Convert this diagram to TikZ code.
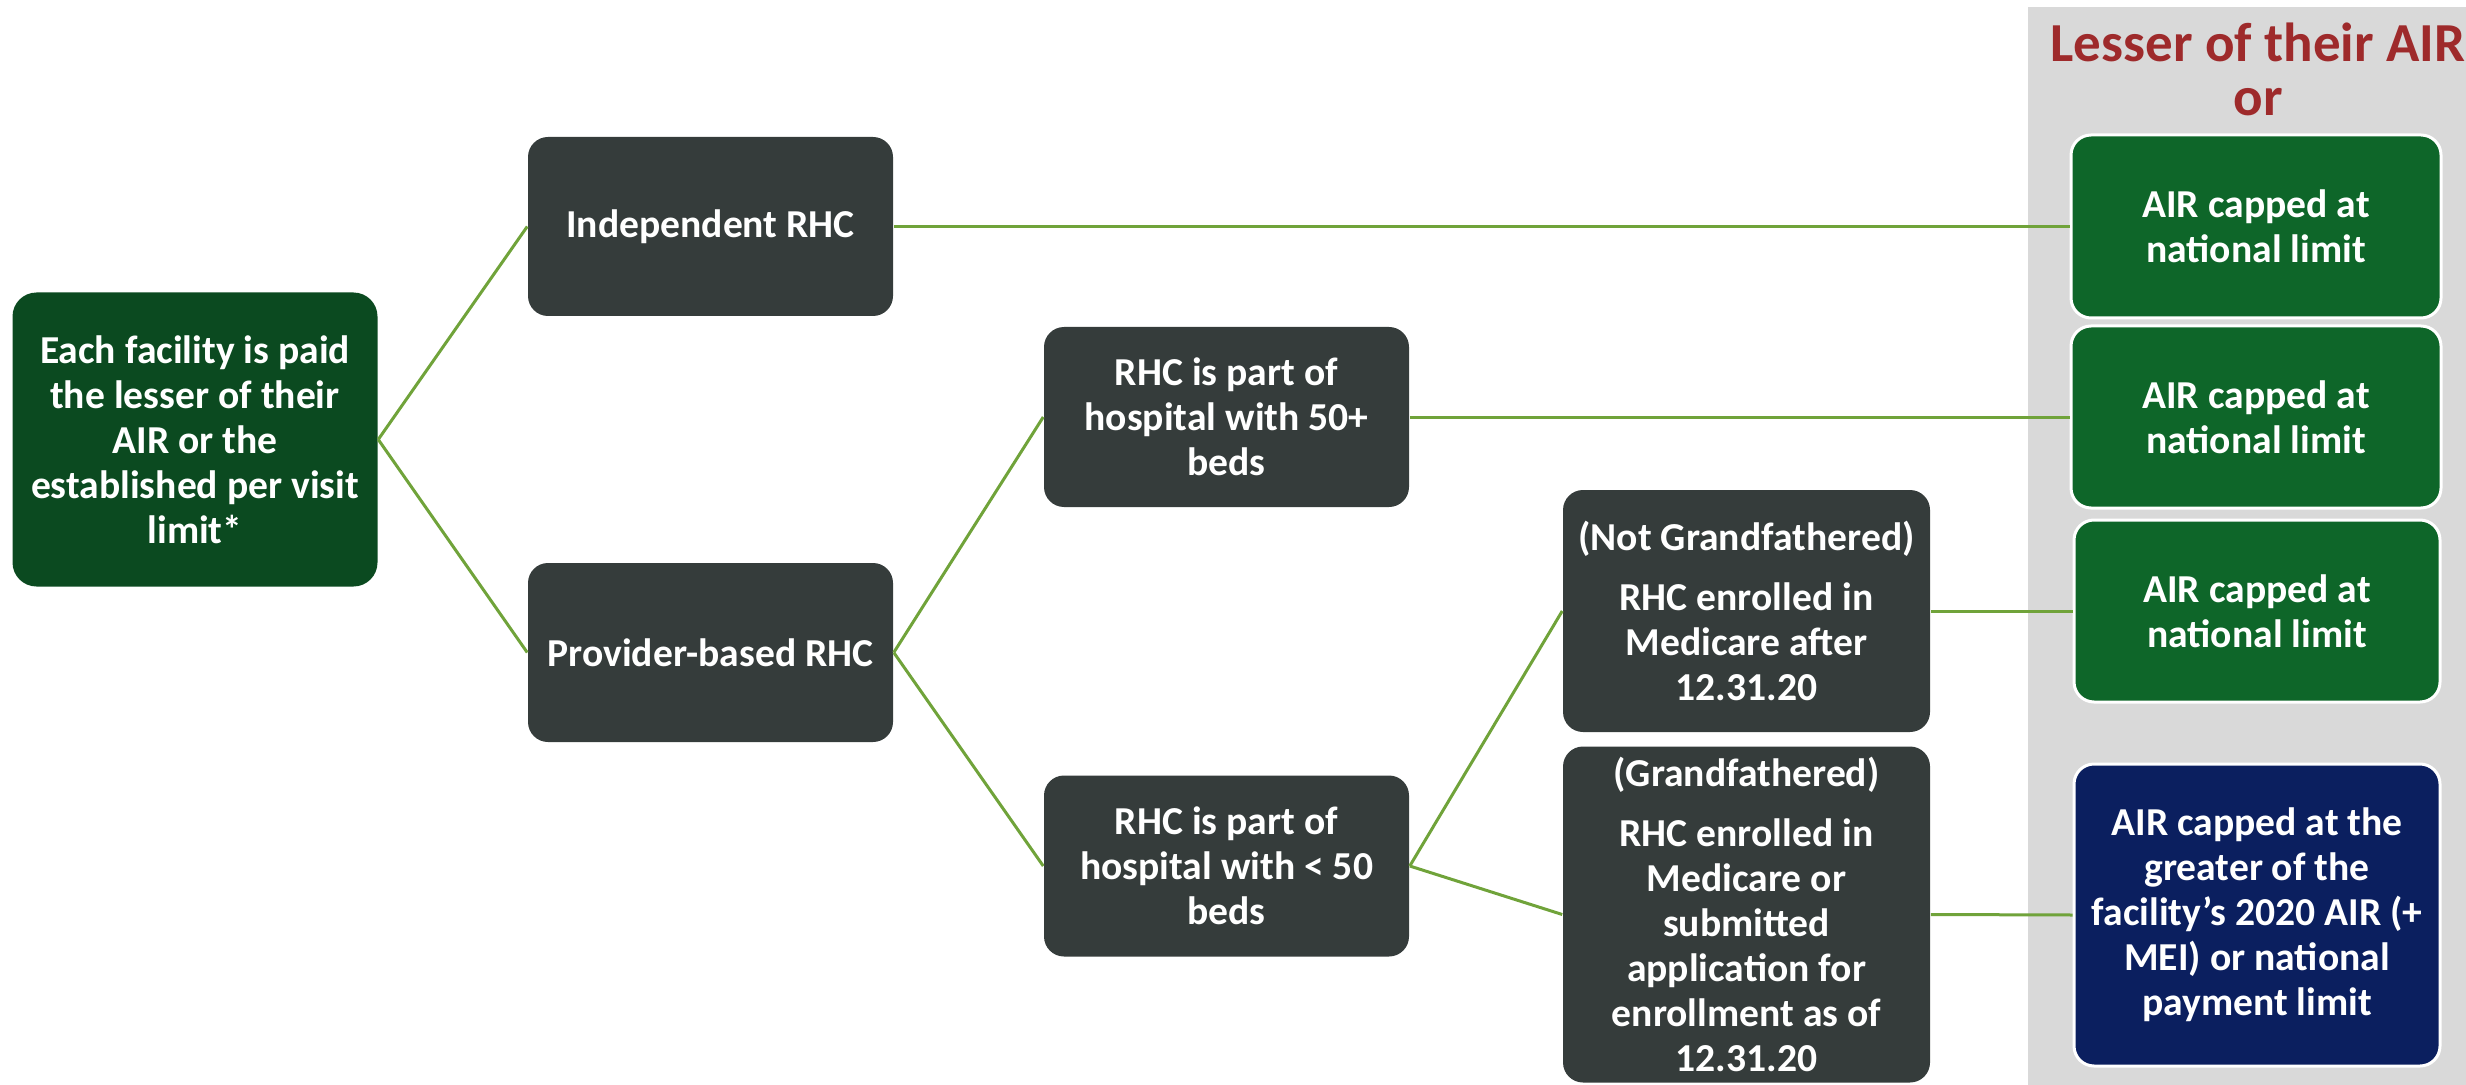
\documentclass[tikz,border=0pt]{standalone}
\usepackage{fontspec}
\setmainfont{Carlito}
\usetikzlibrary{positioning}

\definecolor{rootgreen}{RGB}{11,74,32}
\definecolor{boxgrey}{RGB}{53,60,59}
\definecolor{capgreen}{RGB}{14,102,41}
\definecolor{capnavy}{RGB}{11,31,95}
\definecolor{linkgreen}{RGB}{112,163,58}
\definecolor{panelgrey}{RGB}{217,217,217}
\definecolor{titlered}{RGB}{158,42,43}

\tikzset{every picture/.style={line width=0.75pt}}

\begin{document}
\begin{tikzpicture}[x=0.5pt,y=0.5pt,yscale=-1,xscale=1,
  box/.style={rounded corners=10pt, inner sep=0pt, align=center, text=white,
    minimum width=182.5pt, font=\bfseries\fontsize{19.8}{22.5}\selectfont},
  greybox/.style={box, fill=boxgrey},
  capbox/.style={box, fill=capgreen, draw=white, line width=1.5pt, minimum width=185pt},
  link/.style={draw=linkgreen, line width=1.5pt}]
\useasboundingbox (0,0) rectangle (2466,1085);

%Shape: Rectangle (side panel)
\fill [panelgrey] (2028,7) rectangle (2466,1085);
% Text Node
\node (title) at (2258,69) [align=center, text=titlered, font=\bfseries\fontsize{27.5}{27}\selectfont] {Lesser of their AIR\\or};

%Shape: Rounded Rect
\node (root) at (195,439.5) [box, fill=rootgreen, rounded corners=12pt, minimum width=182.5pt, minimum height=147pt] {Each facility is paid\\the lesser of their\\AIR or the\\established per visit\\limit*};
\node (indep) at (710.5,226.5) [greybox, minimum height=89.5pt] {Independent RHC};
\node (provider) at (710.5,652.5) [greybox, minimum height=89.5pt] {Provider-based RHC};
\node (fifty) at (1226.5,417) [greybox, minimum height=90pt] {RHC is part of\\hospital with 50+\\beds};
\node (under) at (1226.5,866) [greybox, minimum height=90.5pt] {RHC is part of\\hospital with < 50\\beds};
\node (notg) at (1746.5,611) [greybox, minimum width=183.5pt, minimum height=121pt] {(Not Grandfathered)\\[7.5pt]RHC enrolled in\\Medicare after\\12.31.20};
\node (grand) at (1746.5,914.5) [greybox, minimum width=183.5pt, minimum height=168pt] {(Grandfathered)\\[7.5pt]RHC enrolled in\\Medicare or\\submitted\\application for\\enrollment as of\\12.31.20};

%Shape: Rounded Rect (outcomes)
\node (capa) at (2256,226.5) [capbox, minimum height=91.5pt] {AIR capped at\\national limit};
\node (capb) at (2256,417) [capbox, minimum height=91pt] {AIR capped at\\national limit};
\node (capc) at (2257,611) [capbox, minimum width=183pt, minimum height=91pt] {AIR capped at\\national limit};
\node (capd) at (2257,915) [capbox, fill=capnavy, minimum width=183pt, minimum height=151pt] {AIR capped at the\\greater of the\\facility’s 2020 AIR (+\\MEI) or national\\payment limit};

%Straight Lines
\draw [link] (root.east) -- (indep.west);
\draw [link] (root.east) -- (provider.west);
\draw [link] (provider.east) -- (fifty.west);
\draw [link] (provider.east) -- (under.west);
\draw [link] (under.east) -- (notg.west);
\draw [link] (under.east) -- (grand.west);
\draw [link] (indep.east) -- (capa.west);
\draw [link] (fifty.east) -- (capb.west);
\draw [link] (notg.east) -- (capc.west);
\draw [link] (grand.east) -- (capd.west);
\end{tikzpicture}
\end{document}
